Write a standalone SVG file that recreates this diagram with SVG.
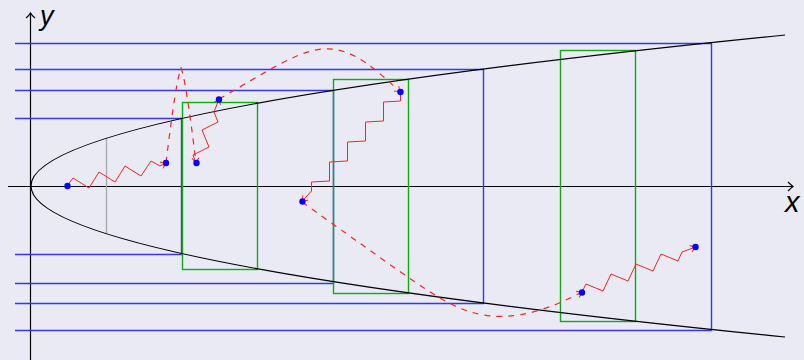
<svg xmlns="http://www.w3.org/2000/svg" width="804" height="360" viewBox="0 0 804 360">
<defs>
<style>
.ax{stroke:#000;stroke-width:1.2;fill:none}
.bl{stroke:#3636f2;stroke-width:1.4;fill:none}
.gr{stroke:#11aa11;stroke-width:1.4;fill:none}
.zz{stroke:#ff2222;stroke-width:1;fill:none;stroke-linejoin:miter}
.da{stroke:#ff2222;stroke-width:1.2;fill:none;stroke-dasharray:6,6}
.dot{fill:#0000ff}
.lbl{font-family:"Liberation Sans",Arial,sans-serif;font-style:italic;fill:#000}
</style>
<marker id="ar" viewBox="-8 -6 10 12" markerWidth="10" markerHeight="12" refX="0" refY="0" orient="auto" markerUnits="userSpaceOnUse" overflow="visible">
<path d="M-5,-3.5 Q-2,-1 0,0 Q-2,1 -5,3.5" fill="none" stroke="#ff2222" stroke-width="1"/>
</marker>
</defs>
<rect x="0" y="0" width="804" height="360" fill="#eaeaf4"/>

<g id="axes">
<path class="ax" d="M8,186.5 H793"/>
<path class="ax" d="M788,182 Q791,185 793,186.5 Q791,188 788,191"/>
<path class="ax" d="M30.5,360 V13"/>
<path class="ax" d="M26,18 Q29.5,15 30.5,13 Q31.5,15 35,18"/>
<text class="lbl" x="40" y="25" font-size="27">y</text>
<text class="lbl" x="785" y="212" font-size="29">x</text>
</g>

<g id="blue-lines">
<path class="bl" d="M15,43.5 H711.5 V330.5 H15"/>
<path class="bl" d="M15,69.5 H483.5 V303.5 H15"/>
<path class="bl" d="M15,90.5 H333.5 V283.5 H15"/>
<path class="bl" d="M15,118.5 H181.5 V254.5 H15"/>
</g>

<g id="gray-line">
<path d="M106.5,138 V233" stroke="#aaaaaa" stroke-width="1.4" fill="none"/>
</g>

<g id="green-boxes">
<rect class="gr" x="182.5" y="102.5" width="75" height="167"/>
<rect class="gr" x="333.5" y="79.5" width="75" height="214"/>
<rect class="gr" x="560.5" y="50.5" width="75" height="271"/>
</g>

<g id="parabola">
<path d="M785,35 Q-723,186 785,337" stroke="#000" stroke-width="1.2" fill="none"/>
</g>

<g id="connectors">
<polyline class="zz" marker-end="url(#ar)" points="67,186 73,178 89,188 99,172 115,182 125,166 141,176 151,161 160,166 166,163"/>
<path class="da" marker-end="url(#ar)" d="M166,163 Q176,80 181,68 Q186,80 196,163"/>
<polyline class="zz" marker-end="url(#ar)" points="196,163 193,155 209,147 202,130 218,122 214,112 219,99"/>
<path class="da" marker-end="url(#ar)" d="M219,99 C315,44 330,24 400,92"/>
<polyline class="zz" marker-end="url(#ar)" points="400.5,92 400.5,101 383.5,102 383.5,121 365.5,122 365.5,141 347.5,142 347.5,161 329.5,162 329.5,181 311.5,182 311.5,191 302,201.5"/>
<path class="da" marker-end="url(#ar)" d="M302,202 C360,243 410,280 440,298 C480,322 520,325 582,292"/>
<polyline class="zz" marker-end="url(#ar)" points="582,292 586,284 603,291 611,274 628,281 636,264 653,271 661,254 678,261 682,252 695.5,247"/>
</g>

<g id="dots">
<circle class="dot" cx="67.5" cy="186" r="3.2"/>
<circle class="dot" cx="166" cy="163" r="3.2"/>
<circle class="dot" cx="196.5" cy="163" r="3.2"/>
<circle class="dot" cx="219" cy="99.5" r="3.2"/>
<circle class="dot" cx="400.5" cy="92" r="3.2"/>
<circle class="dot" cx="302.5" cy="201.5" r="3.2"/>
<circle class="dot" cx="582" cy="292.5" r="3.2"/>
<circle class="dot" cx="695.5" cy="247" r="3.2"/>
</g>
</svg>
